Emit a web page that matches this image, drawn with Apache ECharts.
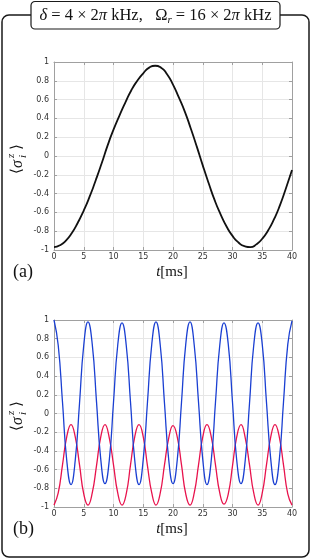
<!DOCTYPE html>
<html>
<head>
<meta charset="utf-8">
<script src="https://cdn.jsdelivr.net/npm/echarts@6/dist/echarts.min.js"></script>
<style>html,body{margin:0;padding:0;background:#fff;}#c{width:311px;height:560px;}</style>
</head>
<body>
<div id="c"></div>
<script>
// ---- data ----
const xTicks = [0, 5, 10, 15, 20, 25, 30, 35, 40];
const yTicks = [-1, -0.8, -0.6, -0.4, -0.2, 0, 0.2, 0.4, 0.6, 0.8, 1];

// panel (a)
const tA = [0,1,2,3,4,5,6,7,8,9,10,11,12,13,14,15,16,17,18,19,20,21,22,23,24,25,26,27,28,29,30,31,32,33,34,35,36,37,38,39,40];
const sigmaA = [-0.97,-0.95,-0.90,-0.82,-0.71,-0.58,-0.43,-0.26,-0.08,0.11,0.28,0.43,0.57,0.70,0.80,0.88,0.94,0.96,0.94,0.87,0.76,0.62,0.47,0.29,0.10,-0.10,-0.29,-0.47,-0.62,-0.75,-0.85,-0.92,-0.96,-0.97,-0.94,-0.88,-0.79,-0.67,-0.52,-0.34,-0.15];

// panel (b)
const tB = [0,0.71,1.43,2.14,2.86,3.57,4.29,5.0,5.71,6.43,7.14,7.86,8.57,9.29,10.0,10.71,11.43,12.14,12.86,13.57,14.29,15.0,15.71,16.43,17.14,17.86,18.57,19.29,20.0,20.71,21.43,22.14,22.86,23.57,24.29,25.0,25.71,26.43,27.14,27.86,28.57,29.29,30.0,30.71,31.43,32.14,32.86,33.57,34.29,35.0,35.71,36.43,37.14,37.86,38.57,39.29,40.0];
const sigmaBlue = [1.00,0.73,0.12,-0.50,-0.76,-0.50,0.11,0.73,0.98,0.74,0.13,-0.49,-0.75,-0.50,0.12,0.73,0.97,0.73,0.12,-0.50,-0.76,-0.49,0.12,0.74,0.98,0.73,0.11,-0.50,-0.75,-0.50,0.12,0.74,0.98,0.73,0.12,-0.49,-0.76,-0.50,0.12,0.73,0.97,0.74,0.12,-0.50,-0.75,-0.50,0.11,0.73,0.97,0.74,0.12,-0.49,-0.76,-0.50,0.12,0.74,0.99];
const sigmaRed = [-0.98,-0.85,-0.55,-0.25,-0.12,-0.25,-0.55,-0.86,-0.98,-0.85,-0.56,-0.25,-0.12,-0.26,-0.55,-0.85,-0.98,-0.86,-0.55,-0.25,-0.12,-0.25,-0.56,-0.85,-0.98,-0.85,-0.55,-0.26,-0.13,-0.25,-0.55,-0.86,-0.98,-0.85,-0.55,-0.25,-0.12,-0.25,-0.55,-0.85,-0.97,-0.86,-0.56,-0.25,-0.12,-0.26,-0.55,-0.85,-0.98,-0.85,-0.55,-0.25,-0.12,-0.25,-0.55,-0.86,-0.98];

// ---- chart ----
const AX = '#a0a0a0';
const GRIDC = '#e6e6e6';
const LBL = '#333333';
const SERIF = '"Liberation Serif", "DejaVu Serif", serif';

function pairs(xs, ys) { return xs.map((x, i) => [x, ys[i]]); }

const grids = [
  { left: 54, top: 62, width: 238, height: 188 },
  { left: 54, top: 320, width: 238, height: 187 }
];

const xAxes = [], yAxes = [];
grids.forEach((g, gi) => {
  const common = {
    axisLine: { show: true, onZero: false, lineStyle: { color: AX, width: 1 } },
    axisTick: { show: true, inside: true, length: 3, lineStyle: { color: AX } }
  };
  xAxes.push(Object.assign({
    type: 'value', gridIndex: gi, position: 'bottom',
    min: xTicks[0], max: xTicks[xTicks.length - 1], interval: xTicks[1] - xTicks[0],
    axisLabel: { show: true, margin: 3, fontSize: 8, color: LBL, fontFamily: '"DejaVu Sans", sans-serif' },
    splitLine: { show: true, lineStyle: { color: GRIDC, width: 1 } }
  }, common));
  xAxes.push(Object.assign({
    type: 'value', gridIndex: gi, position: 'top',
    min: xTicks[0], max: xTicks[xTicks.length - 1], interval: xTicks[1] - xTicks[0],
    axisLabel: { show: false },
    splitLine: { show: false }
  }, common));
  yAxes.push(Object.assign({
    type: 'value', gridIndex: gi, position: 'left',
    min: yTicks[0], max: yTicks[yTicks.length - 1], interval: 0.2,
    axisLabel: { show: true, margin: 5, fontSize: 8, color: LBL, fontFamily: '"DejaVu Sans", sans-serif',
      formatter: v => String(Math.round(v * 10) / 10) },
    splitLine: { show: true, lineStyle: { color: GRIDC, width: 1 } }
  }, common));
  yAxes.push(Object.assign({
    type: 'value', gridIndex: gi, position: 'right',
    min: yTicks[0], max: yTicks[yTicks.length - 1], interval: 0.2,
    axisLabel: { show: false },
    splitLine: { show: false }
  }, common));
});

function ylabel(cx, cy) {
  return {
    type: 'group', x: cx, y: cy, rotation: Math.PI / 2,
    children: [
      { type: 'text', x: -18, y: 0, style: { text: '\u27E8', font: '15px ' + SERIF, fill: '#111', textAlign: 'left', textVerticalAlign: 'middle' } },
      { type: 'text', x: -12, y: 1, style: { text: 'σ', font: 'italic 16px ' + SERIF, fill: '#111', textAlign: 'left', textVerticalAlign: 'middle' } },
      { type: 'text', x: -2, y: -6, style: { text: 'z', font: 'italic 11px ' + SERIF, fill: '#111', textAlign: 'left', textVerticalAlign: 'middle' } },
      { type: 'text', x: -2, y: 6, style: { text: 'i', font: 'italic 11px ' + SERIF, fill: '#111', textAlign: 'left', textVerticalAlign: 'middle' } },
      { type: 'text', x: 6, y: 0, style: { text: '\u27E9', font: '15px ' + SERIF, fill: '#111', textAlign: 'left', textVerticalAlign: 'middle' } }
    ]
  };
}
function xlabel(cx, cy) {
  return {
    type: 'text', x: cx, y: cy,
    style: {
      text: '{i|t}{r|[ms]}', textAlign: 'center', textVerticalAlign: 'middle',
      rich: {
        i: { font: 'italic 15px ' + SERIF, fill: '#111' },
        r: { font: '15px ' + SERIF, fill: '#111' }
      }
    }
  };
}

const option = {
  animation: false,
  backgroundColor: '#fff',
  grid: grids,
  xAxis: xAxes,
  yAxis: yAxes,
  series: [
    { type: 'line', xAxisIndex: 0, yAxisIndex: 0, data: pairs(tA, sigmaA), smooth: 0.6, showSymbol: false,
      lineStyle: { color: '#111', width: 1.8 } },
    { type: 'line', xAxisIndex: 2, yAxisIndex: 2, data: pairs(tB, sigmaRed), smooth: 0.5, showSymbol: false,
      lineStyle: { color: '#e8134d', width: 1.3 } },
    { type: 'line', xAxisIndex: 2, yAxisIndex: 2, data: pairs(tB, sigmaBlue), smooth: 0.5, showSymbol: false,
      lineStyle: { color: '#1a3fd2', width: 1.3 } }
  ],
  graphic: [
    { type: 'rect', z: 10, shape: { x: 2, y: 15, width: 307, height: 542, r: 7 },
      style: { fill: 'none', stroke: '#1a1a1a', lineWidth: 1.5 } },
    { type: 'rect', z: 11, shape: { x: 31, y: 1.5, width: 249, height: 27.5, r: 4 },
      style: { fill: '#fff', stroke: '#1a1a1a', lineWidth: 1.2 } },
    { type: 'text', z: 12, x: 155.5, y: 15.5,
      style: {
        text: '{i|δ}{r| = 4 × 2}{i|π}{r| kHz,   Ω}{s|r}{r| = 16 × 2}{i|π}{r| kHz}',
        textAlign: 'center', textVerticalAlign: 'middle',
        rich: {
          i: { font: 'italic 16.5px ' + SERIF, fill: '#111', lineHeight: 20 },
          r: { font: '16.5px ' + SERIF, fill: '#111', lineHeight: 20 },
          s: { font: 'italic 11px ' + SERIF, fill: '#111', verticalAlign: 'bottom', lineHeight: 14, padding: [6, 0, 0, 0] }
        }
      } },
    Object.assign(ylabel(17, 156), { z: 12 }),
    Object.assign(ylabel(17, 413), { z: 12 }),
    Object.assign(xlabel(172, 272), { z: 12 }),
    Object.assign(xlabel(172, 529), { z: 12 }),
    { type: 'text', z: 12, x: 13, y: 272, style: { text: '(a)', font: '18px ' + SERIF, fill: '#111', textAlign: 'left', textVerticalAlign: 'middle' } },
    { type: 'text', z: 12, x: 13, y: 529, style: { text: '(b)', font: '18px ' + SERIF, fill: '#111', textAlign: 'left', textVerticalAlign: 'middle' } }
  ]
};

const chart = echarts.init(document.getElementById('c'), null, { renderer: 'canvas' });
chart.setOption(option);
</script>
</body>
</html>
